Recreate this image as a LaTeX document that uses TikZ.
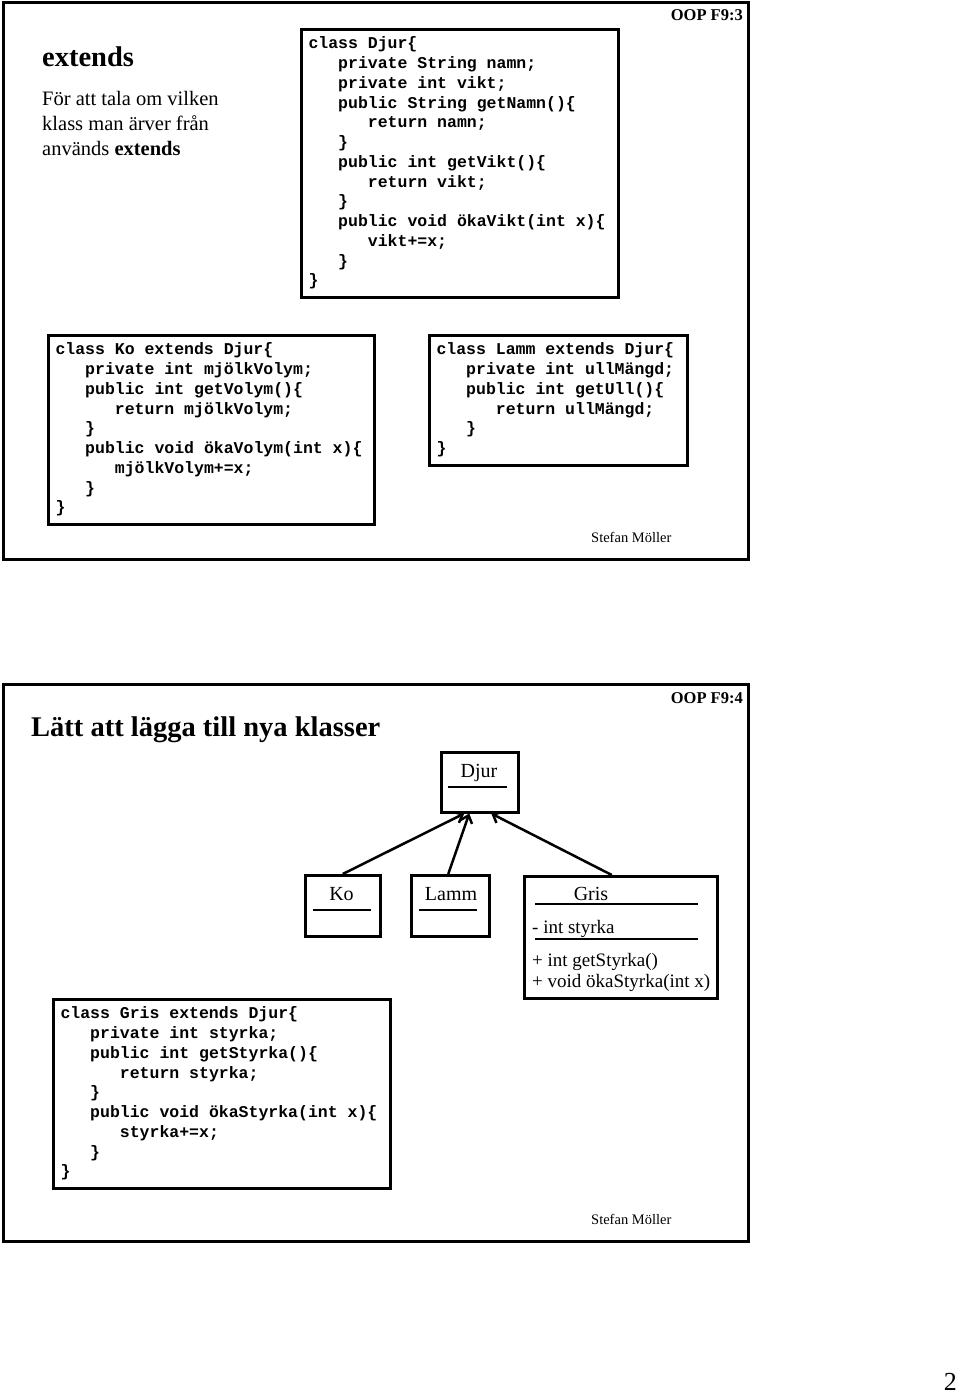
\documentclass[tikz,border=0pt]{standalone}
\usepackage{fontspec}
\setmainfont{Liberation Serif}
\setmonofont{Liberation Mono}
\usepackage{tikz}
\usetikzlibrary{arrows.meta,positioning}
\newcommand{\cind}{\hspace*{29.7pt}}% three mono chars
\tikzset{
  frame/.style={draw=black, line width=3pt},
  code/.style={draw=black, line width=3pt, anchor=north west, align=left,
               inner xsep=7pt, inner ysep=5.5pt,
               font=\ttfamily\bfseries\fontsize{16.5}{19.75}\selectfont,
               execute at begin node={\spaceskip=9.9pt\relax}},
  head/.style={anchor=base west, inner sep=0pt, font=\bfseries\fontsize{28.5}{32}\selectfont},
  slideno/.style={anchor=base east, inner sep=0pt, font=\bfseries\fontsize{16.5}{20}\selectfont},
  author/.style={anchor=base west, inner sep=0pt, font=\fontsize{14.5}{17}\selectfont},
  umlbox/.style={draw=black, line width=2.5pt, anchor=north west, inner sep=0pt},
  umlname/.style={anchor=base, inner sep=0pt, font=\fontsize{20}{24}\selectfont},
  umlmem/.style={anchor=base west, inner sep=0pt, font=\fontsize{19}{22}\selectfont},
  sep/.style={line width=2pt},
  inh/.style={-{Straight Barb[length=7pt,width=12pt]}, line width=2.5pt},
}
\begin{document}
\begin{tikzpicture}[x=1pt, y=-1pt]
  \fill[white] (0,0) rectangle (960,1394);
  \useasboundingbox (0,0) rectangle (960,1394);
  % slide F9:3
  \draw[frame] (3,3) rectangle (748,559);
  \node[head] (title1) at (42,67) {extends};
  \node[anchor=north west, inner sep=0pt, align=left,
        font=\fontsize{20.5}{25}\selectfont] (intro) at (42,91)
        {För att tala om vilken\\klass man ärver från\\används \textbf{extends}};
  \node[slideno] (oop1) at (743,21) {OOP F9:3};
  \node[code, text width=303pt] (djurcode) at (300,28) {\strut class Djur\{\\
    \cind private String namn;\\
    \cind private int vikt;\\
    \cind public String getNamn()\{\\
    \cind\cind return namn;\\
    \cind \}\\
    \cind public int getVikt()\{\\
    \cind\cind return vikt;\\
    \cind \}\\
    \cind public void ökaVikt(int x)\{\\
    \cind\cind vikt+=x;\\
    \cind \}\\
    \}\strut};
  \node[code, text width=312pt] (kocode) at (47,334) {\strut class Ko extends Djur\{\\
    \cind private int mjölkVolym;\\
    \cind public int getVolym()\{\\
    \cind\cind return mjölkVolym;\\
    \cind \}\\
    \cind public void ökaVolym(int x)\{\\
    \cind\cind mjölkVolym+=x;\\
    \cind \}\\
    \}\strut};
  \node[code, text width=244pt] (lammcode) at (428,334) {\strut class Lamm extends Djur\{\\
    \cind private int ullMängd;\\
    \cind public int getUll()\{\\
    \cind\cind return ullMängd;\\
    \cind \}\\
    \}\strut};
  \node[author] (author1) at (591,542) {Stefan Möller};

  % slide F9:4
  \draw[frame] (3,684) rectangle (748,1241);
  \node[head] (title2) at (31,736) {Lätt att lägga till nya klasser};
  \node[slideno] (oop2) at (743,703) {OOP F9:4};
  % class diagram
  \node[umlbox, minimum width=77pt, minimum height=60pt] (djur) at (440,751) {};
  \node[umlname] (djurname) at (479,777) {Djur};
  \draw[sep] (448,787) -- (507,787);
  \node[umlbox, minimum width=75pt, minimum height=61pt] (ko) at (304,874) {};
  \node[umlname] (koname) at (341.5,900) {Ko};
  \draw[sep] (313,910) -- (371,910);
  \node[umlbox, minimum width=78pt, minimum height=61pt] (lamm) at (410,874) {};
  \node[umlname] (lammname) at (451,900) {Lamm};
  \draw[sep] (419,910) -- (477,910);
  \node[umlbox, minimum width=193pt, minimum height=122pt] (gris) at (523,875) {};
  \node[umlname] (grisname) at (591,900) {Gris};
  \draw[sep] (535,904) -- (698,904);
  \node[umlmem] (grisattr) at (532,933) {- int styrka};
  \draw[sep] (535,939) -- (698,939);
  \node[umlmem] (grismeth1) at (532,966) {+ int getStyrka()};
  \node[umlmem] (grismeth2) at (532,987) {+ void ökaStyrka(int x)};
  \draw[inh] (ko.north) -- ([xshift=-15.5pt]djur.south);
  \draw[inh] ([xshift=-2pt]lamm.north) -- ([xshift=-10.5pt]djur.south);
  \draw[inh] ([xshift=-9pt]gris.north) -- ([xshift=11.5pt]djur.south);
  \node[code, text width=323pt] (griscode) at (52,998) {\strut class Gris extends Djur\{\\
    \cind private int styrka;\\
    \cind public int getStyrka()\{\\
    \cind\cind return styrka;\\
    \cind \}\\
    \cind public void ökaStyrka(int x)\{\\
    \cind\cind styrka+=x;\\
    \cind \}\\
    \}\strut};
  \node[author] (author2) at (591,1224) {Stefan Möller};

  \node[anchor=base east, inner sep=0pt, font=\fontsize{26}{30}\selectfont] (pageno) at (957,1390) {2};
\end{tikzpicture}
\end{document}
